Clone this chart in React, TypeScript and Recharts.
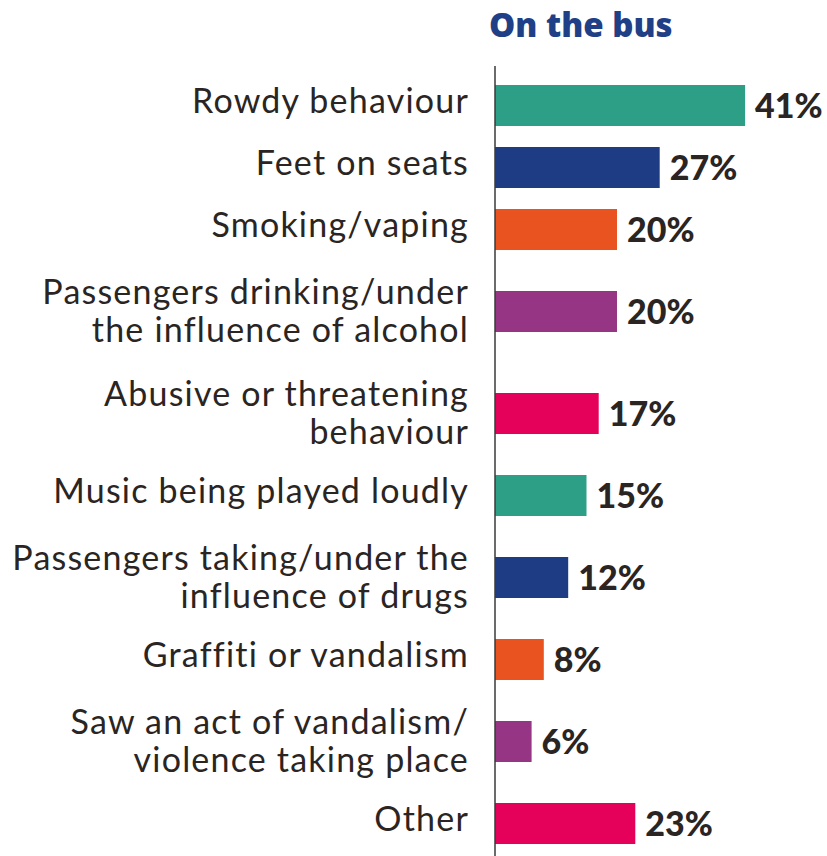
import React from "react";
import { BarChart, Bar, XAxis, YAxis, Cell, LabelList } from "recharts";

const categories = [
  "Rowdy behaviour",
  "Feet on seats",
  "Smoking/vaping",
  "Passengers drinking/under\nthe influence of alcohol",
  "Abusive or threatening\nbehaviour",
  "Music being played loudly",
  "Passengers taking/under the\ninfluence of drugs",
  "Graffiti or vandalism",
  "Saw an act of vandalism/\nviolence taking place",
  "Other",
];
const values = [41, 27, 20, 20, 17, 15, 12, 8, 6, 23];
const colors = ["#2e9f87", "#1d3c84", "#e8531f", "#953583", "#e5005a"];
const title = "On the bus";

const ROW_ONE = 62;
const ROW_TWO = 102;
const TEXT = "#2a2523";
const FONT = "Lato, 'Open Sans', sans-serif";
const TITLE_FONT = "'Open Sans', Lato, sans-serif";

let acc = 0;
const data = categories.map((c, i) => {
  const lines = c.split("\n");
  const h = lines.length > 1 ? ROW_TWO : ROW_ONE;
  const pos = acc + h / 2;
  acc += h;
  return { label: c, lines, pos, value: values[i], color: colors[i % colors.length] };
});
const total = acc;
const positions = data.map((d) => d.pos);

const Tick = (props: any) => {
  const { x, y, payload } = props;
  const row = data.find((d) => Math.abs(d.pos - payload.value) < 0.01);
  if (!row) return null;
  const n = row.lines.length;
  const base = n > 1 ? 12 : 7.5;
  return (
    <text
      x={x + 1}
      y={y}
      textAnchor="end"
      fill={TEXT}
      fontFamily={FONT}
      fontSize={34}
      letterSpacing={1.2}
    >
      {row.lines.map((l: string, i: number) => (
        <tspan key={i} x={x + 1} y={y + (i - (n - 1) / 2) * 38.5 + base}>
          {l}
        </tspan>
      ))}
    </text>
  );
};

export default function App() {
  return (
    <div style={{ position: "absolute", left: 0, top: 0, width: 827, height: 856, background: "#fff" }}>
      <div
        style={{
          position: "absolute",
          left: 489,
          top: 2,
          fontFamily: TITLE_FONT,
          fontWeight: 800,
          fontSize: 33,
          lineHeight: "46px",
          color: "#1f3f87",
        }}
      >
        {title}
      </div>
      <BarChart
        width={827}
        height={856}
        data={data}
        layout="vertical"
        margin={{ top: 66, right: 27, bottom: 0, left: 0 }}
      >
        <XAxis type="number" domain={[0, 50]} hide />
        <YAxis
          type="number"
          dataKey="pos"
          domain={[-8, total + 2]}
          ticks={positions}
          width={495}
          axisLine={{ stroke: "#3a3a3a", strokeWidth: 1.5 }}
          tickLine={false}
          tickSize={0}
          tickMargin={27}
          tick={<Tick />}
          interval={0}
        />
        <Bar dataKey="value" barSize={41} isAnimationActive={false}>
          {data.map((d, i) => (
            <Cell key={i} fill={d.color} />
          ))}
          <LabelList
            dataKey="value"
            position="right"
            offset={10}
            formatter={(v: any) => `${v}%`}
            fill={TEXT}
            style={{ fontFamily: FONT, fontWeight: 900, fontSize: 34 }}
          />
        </Bar>
      </BarChart>
    </div>
  );
}
